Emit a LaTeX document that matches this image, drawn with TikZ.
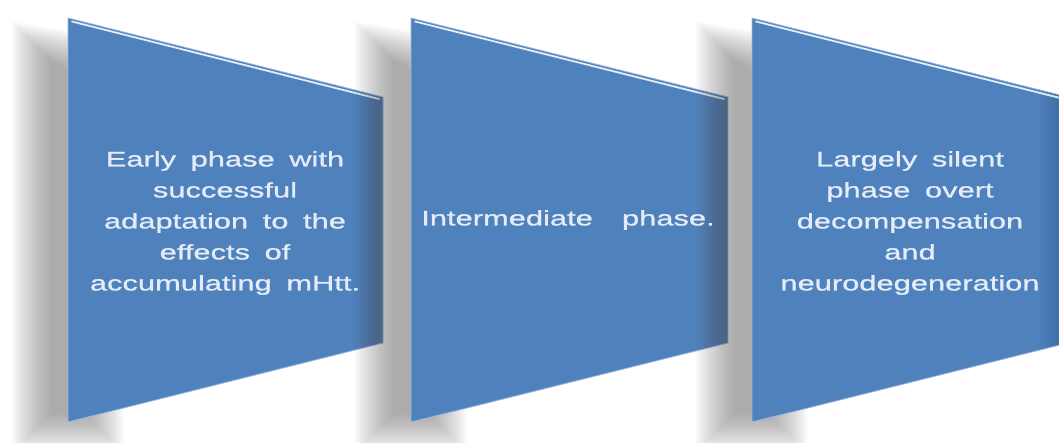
\documentclass[tikz,border=0pt]{standalone}
\usepackage{fontspec}
\newfontfamily\panelfont[FakeStretch=1.47,FakeBold=1,WordSpace=1.7]{Liberation Sans}
\definecolor{panelblue}{HTML}{4F81BD}
\definecolor{paneldark}{HTML}{3B679E}
\definecolor{paneltext}{HTML}{E4ECF7}
\definecolor{panelrim}{HTML}{9DBBE2}
\begin{document}
\begin{tikzpicture}[x=1pt,y=-1pt,
  phase text/.style={text=paneltext, font=\panelfont\fontsize{21}{31}\selectfont, align=center, inner sep=0pt},
  shadow layer/.style={fill=black!60, opacity=0.045},
]
\useasboundingbox (0,0) rectangle (1059,443);
\fill[white] (0,0) rectangle (1059,443);
\clip (0,0) rectangle (1059,443);

% three skewed panels, each casting a soft shadow to its left
\foreach \L/\R in {68/383, 411/728, 752/1068}{
  % soft shadow built from stacked translucent shapes
  \foreach \k in {0,...,15}{
    \fill[shadow layer] ({\L-56+2.5*\k},{22+2.5*\k}) -- ({\L+55-2.5*\k},{40+2.5*\k})
      -- ({\L+55-2.5*\k},{452-2.5*\k}) -- ({\L-56+2.5*\k},{452-2.5*\k}) -- cycle;
  }
  % panel face
  \fill[panelblue] (\L,18) -- (\R,97) -- (\R,343) -- (\L,422) -- cycle;
  % darker band towards the far edge
  \begin{scope}
    \clip (\L,18) -- (\R,97) -- (\R,343) -- (\L,422) -- cycle;
    \shade[left color=panelblue, right color=paneldark] ({\R-30},0) rectangle (\R,443);
  \end{scope}
  % light rim and bevel highlight on the top edge
  \draw[panelrim, line width=0.8] (\L,18) -- (\R,97) -- (\R,343) -- (\L,422) -- cycle;
  \draw[white, line width=1.8, opacity=0.85, line cap=round] ({\L+4},21.5) -- ({\R-4},99);
}

\node[phase text] (early) at (225,223) {Early phase with\\successful\\adaptation to the\\effects of\\accumulating mHtt.};
\node[phase text] (inter) at (568,220) {Intermediate\ \ phase.};
\node[phase text] (late) at (910,223) {Largely silent\\phase overt\\decompensation\\and\\neurodegeneration};
\end{tikzpicture}
\end{document}
